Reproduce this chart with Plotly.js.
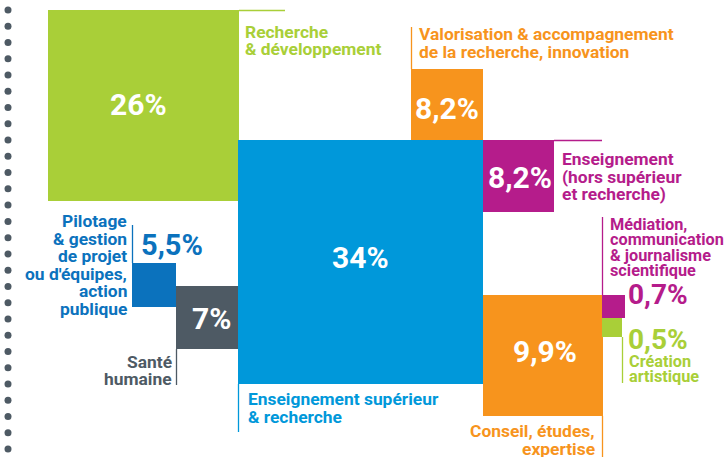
<!DOCTYPE html>
<html>
<head>
<meta charset="utf-8">
<script src="https://cdn.plot.ly/plotly-3.0.1.min.js"></script>
<style>
  html, body { margin: 0; padding: 0; background: #fff; }
  #chart { width: 726px; height: 457px; }
</style>
</head>
<body>
<div id="chart"></div>
<script>
// sectors and their share of jobs
var labelLines = [
  ["Recherche", "& développement"],
  ["Enseignement supérieur", "& recherche"],
  ["Valorisation & accompagnement", "de la recherche, innovation"],
  ["Enseignement", "(hors supérieur", "et recherche)"],
  ["Conseil, études,", "expertise"],
  ["Santé", "humaine"],
  ["Pilotage", "& gestion", "de projet", "ou d'équipes,", "action", "publique"],
  ["Médiation,", "communication", "& journalisme", "scientifique"],
  ["Création", "artistique"]
];
var shares = [26, 34, 8.2, 8.2, 9.9, 7, 5.5, 0.7, 0.5];
var colours = ["#a9cf38", "#0098da", "#f7941d", "#b51c8b", "#f7941d",
               "#4e5a64", "#0b72bd", "#b51c8b", "#a9cf38"];

// where each square sits on the page (pixels, y down)
var boxes = [
  [48, 10, 239, 201],
  [238, 140, 483, 384],
  [411, 69, 483, 140],
  [483, 140, 554, 212],
  [483, 295, 603, 416],
  [176, 286, 238, 349],
  [132, 263, 176, 307],
  [602, 295, 625, 318],
  [602, 318, 622, 337]
];
// percent text: x, y, anchor, inside the square?
var valuePos = [
  [138, 104, "center", true],
  [360, 257, "center", true],
  [447, 108, "center", true],
  [520, 177, "center", true],
  [545, 351, "center", true],
  [211, 318, "center", true],
  [139, 245, "left", false],
  [626, 294, "left", false],
  [626, 339, "left", false]
];
// name text: x, first line y, line step, anchor, font size
var labelPos = [
  [243, 32, 17, "left", 17.4],
  [246, 399, 18, "left", 17.4],
  [417, 33.5, 18, "left", 17.4],
  [560, 159, 17.5, "left", 17.4],
  [597, 431, 18, "right", 17.4],
  [174, 361.5, 17, "right", 17.4],
  [129, 221, 17.6, "right", 17.4],
  [608, 224, 15.5, "left", 16.3],
  [627, 361, 15.5, "left", 16.3]
];
// thin leader lines
var leaders = [
  [239, 10.5, 285, 10.5],
  [238.5, 384, 238.5, 432],
  [411.5, 27, 411.5, 69],
  [554, 140.5, 602, 140.5],
  [602.5, 416, 602.5, 457],
  [176.5, 349, 176.5, 385],
  [132.5, 225, 132.5, 263],
  [602.5, 217, 602.5, 295],
  [622.5, 337, 622.5, 383]
];

var shapes = [];
var annotations = [];

boxes.forEach(function (b, i) {
  shapes.push({
    type: "rect", xref: "x", yref: "y",
    x0: b[0], y0: b[1], x1: b[2], y1: b[3],
    fillcolor: colours[i], line: {width: 0}, layer: "below"
  });
});

leaders.forEach(function (l, i) {
  shapes.push({
    type: "line", xref: "x", yref: "y",
    x0: l[0], y0: l[1], x1: l[2], y1: l[3],
    line: {color: colours[i], width: 1.3}
  });
});

shares.forEach(function (v, i) {
  var p = valuePos[i];
  annotations.push({
    x: p[0], y: p[1], xref: "x", yref: "y",
    text: String(v).replace(".", ",") + "%",
    showarrow: false, xanchor: p[2], yanchor: "middle",
    font: {family: "Roboto", size: p[3] ? 30 : (i == 6 ? 29 : 28),
           weight: 700, color: p[3] ? "#ffffff" : colours[i]}
  });
});

labelLines.forEach(function (lines, i) {
  var p = labelPos[i];
  lines.forEach(function (t, k) {
    annotations.push({
      x: p[0], y: p[1] + k * p[2], xref: "x", yref: "y",
      text: t, showarrow: false, xanchor: p[3], yanchor: "middle",
      font: {family: "Roboto", size: p[4], weight: 700, color: colours[i]}
    });
  });
});

// decorative dotted rule down the left edge
var dotY = [];
for (var k = 0; k < 28; k++) dotY.push(10 + k * 16.26);
var dots = {
  x: dotY.map(function () { return 8; }), y: dotY,
  type: "scatter", mode: "markers", hoverinfo: "skip",
  marker: {size: 7, color: "#4e5a64"}
};

var layout = {
  width: 726, height: 457,
  margin: {l: 0, r: 0, t: 0, b: 0},
  paper_bgcolor: "#ffffff", plot_bgcolor: "#ffffff",
  showlegend: false,
  xaxis: {range: [0, 726], visible: false, fixedrange: true},
  yaxis: {range: [457, 0], visible: false, fixedrange: true},
  shapes: shapes,
  annotations: annotations
};

Plotly.newPlot("chart", [dots], layout, {staticPlot: true, displayModeBar: false});
</script>
</body>
</html>
